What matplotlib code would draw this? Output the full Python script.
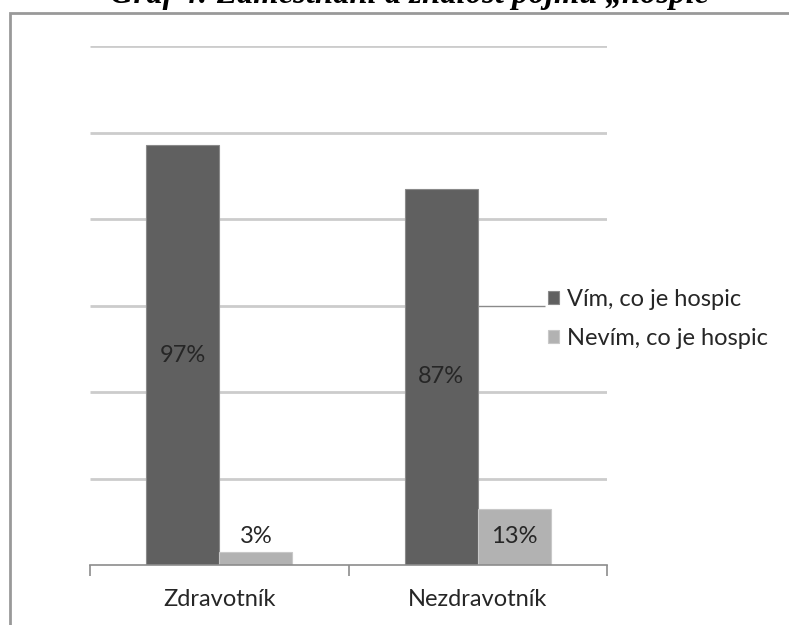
import matplotlib.pyplot as plt
from matplotlib.patches import Rectangle

categories = ['Zdravotník', 'Nezdravotník']
series_names = ['Vím, co je hospic', 'Nevím, co je hospic']
vim = [0.97, 0.87]
nevim = [0.03, 0.13]
grid_values = [0.2, 0.4, 0.6, 0.8, 1.0, 1.2]
title = 'Graf 4: Zaměstnání a znalost pojmu „hospic'

dark = '#606060'
light = '#b2b2b2'
grid_color = '#cccccc'
text_color = '#262626'
font = 'Lato'
fsize = 17

fig = plt.figure(figsize=(7.89, 6.25), dpi=100)
ax = fig.add_axes([90 / 789, 60 / 625, 517 / 789, 519 / 625])

width = 0.283
x = list(range(len(categories)))

# gridlines (0.6 stops at the legend like in the original)
for g in grid_values:
    if g == 0.6:
        ax.plot([-0.5, 1.0], [g, g], color=grid_color, lw=2, zorder=0, solid_capstyle='butt')
        ax.plot([1.0, 1.26], [g, g], color='#8a8a8a', lw=1, zorder=0, solid_capstyle='butt')
    else:
        ax.plot([-0.5, 1.5], [g, g], color=grid_color, lw=2, zorder=0, solid_capstyle='butt')

ax.bar([i - width / 2 for i in x], vim, width, color=dark, edgecolor='#8a8a8a',
       linewidth=0.8, label=series_names[0], zorder=2)
ax.bar([i + width / 2 for i in x], nevim, width, color=light, edgecolor='#c8c8c8',
       linewidth=0.8, label=series_names[1], zorder=2)

for i, v in enumerate(vim):
    ax.text(i - width / 2, v / 2, '{}%'.format(round(v * 100)), ha='center', va='center',
            fontsize=fsize, family=font, color=text_color, zorder=3)
for i, v in enumerate(nevim):
    if v < 0.06:
        ax.annotate('{}%'.format(round(v * 100)), (i + width / 2, v), xytext=(0, 11),
                    textcoords='offset points', ha='center', va='center',
                    fontsize=fsize, family=font, color=text_color, zorder=3)
    else:
        ax.text(i + width / 2, v / 2, '{}%'.format(round(v * 100)), ha='center', va='center',
                fontsize=fsize, family=font, color=text_color, zorder=3)

ax.set_xlim(-0.5, 1.5)
ax.set_ylim(0, 1.2)
ax.set_yticks([])
for s in ['top', 'right', 'left']:
    ax.spines[s].set_visible(False)
ax.spines['bottom'].set_color('#8c8c8c')
ax.spines['bottom'].set_linewidth(1.2)

ax.set_xticks(x)
ax.set_xticklabels(categories, fontsize=fsize, family=font, color=text_color)
ax.tick_params(axis='x', which='major', length=0, pad=17)
ax.set_xticks([-0.5, 0.5, 1.5], minor=True)
ax.tick_params(axis='x', which='minor', length=8, width=1.2, color='#8c8c8c')

leg = ax.legend(loc='center left', bbox_to_anchor=(0.886, 0.474), frameon=False,
                prop={'family': font, 'size': fsize}, handlelength=0.45, handleheight=0.45,
                handletextpad=0.35, labelspacing=0.75, borderaxespad=0, borderpad=0)
for t in leg.get_texts():
    t.set_color(text_color)

# chart frame and cut-off title
fig.add_artist(Rectangle((10 / 789, -0.1), 1.2, 1.1 - 13 / 625, transform=fig.transFigure,
                         fill=False, edgecolor='#999999', lw=2))
fig.text(110 / 789, 1 - 3 / 625, title, ha='left', va='baseline', fontsize=23.5,
         family='Liberation Serif', fontweight='bold', fontstyle='italic')

fig.savefig('out.png', dpi=100)
